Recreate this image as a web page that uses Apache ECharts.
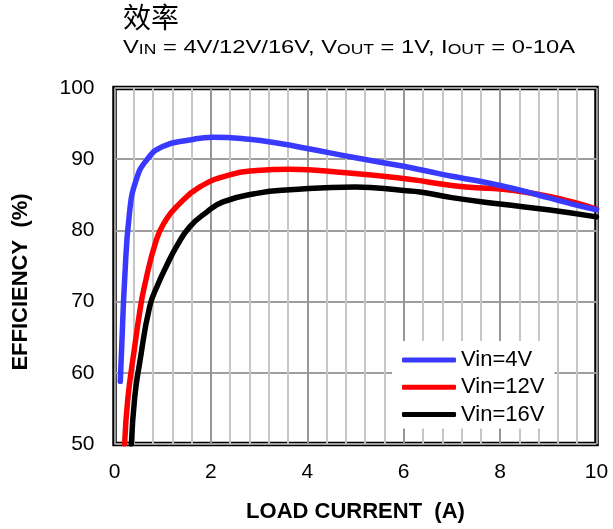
<!DOCTYPE html>
<html>
<head>
<meta charset="utf-8">
<script src="https://cdn.jsdelivr.net/npm/echarts@6/dist/echarts.min.js"></script>
<style>
  html, body { margin: 0; padding: 0; background: #ffffff; }
  #chart { width: 613px; height: 529px; }
</style>
</head>
<body>
<div id="chart"></div>
<script>
// Efficiency vs. load current, Vout = 1V
const seriesNames = ['Vin=4V', 'Vin=12V', 'Vin=16V'];
const seriesColors = ['#3a3aff', '#ff0000', '#000000'];

const vin4Current    = [0.12, 0.15, 0.21, 0.31, 0.45, 0.67, 1.0, 1.56, 2.04, 2.8, 3.43, 4.0, 5.0, 6.0, 6.5, 7.0, 7.5, 8.0, 8.5, 9.0, 9.5, 10.0];
const vin4Efficiency = [58.8, 63.7, 73.0, 82.4, 87.1, 89.9, 91.8, 92.7, 93.1, 92.8, 92.2, 91.5, 90.2, 89.0, 88.3, 87.6, 87.0, 86.3, 85.5, 84.6, 83.7, 82.9];

const vin12Current    = [0.21, 0.28, 0.42, 0.52, 0.62, 0.87, 1.07, 1.28, 1.77, 2.39, 2.95, 3.64, 4.8, 6.0, 6.5, 7.0, 7.5, 8.0, 8.5, 9.0, 9.5, 10.0];
const vin12Efficiency = [50.0, 56.6, 63.7, 68.4, 72.1, 78.7, 81.5, 83.3, 86.1, 87.8, 88.4, 88.6, 88.1, 87.3, 86.8, 86.3, 86.0, 85.8, 85.4, 84.8, 84.0, 83.0];

const vin16Current    = [0.35, 0.42, 0.52, 0.73, 0.9, 1.07, 1.3, 1.56, 1.9, 2.25, 2.95, 3.64, 5.0, 6.0, 6.34, 7.0, 8.0, 9.0, 10.0];
const vin16Efficiency = [50.0, 56.6, 61.3, 69.3, 72.4, 74.9, 77.9, 80.5, 82.5, 84.0, 85.2, 85.7, 86.1, 85.6, 85.4, 84.6, 83.7, 82.9, 81.9];

const xTickValues = [0, 2, 4, 6, 8, 10];
const yTickValues = [50, 60, 70, 80, 90, 100];

const chartTitle = '效率';
const chartSubtitle = 'V{s|IN} = 4V/12V/16V, V{s|OUT} = 1V, I{s|OUT} = 0-10A';
const xAxisTitle = 'LOAD CURRENT  (A)';
const yAxisTitle = 'EFFICIENCY  (%)';

const currents = [vin4Current, vin12Current, vin16Current];
const efficiencies = [vin4Efficiency, vin12Efficiency, vin16Efficiency];

const FONT = '"Liberation Sans", Arial, sans-serif';

const chart = echarts.init(document.getElementById('chart'), null, { renderer: 'canvas' });

chart.setOption({
  animation: false,
  backgroundColor: '#ffffff',
  graphic: [
    {
      type: 'text', left: 123, top: 3, z: 10,
      style: { text: chartTitle, font: '28px "Noto Sans CJK SC", sans-serif', fill: '#000' }
    },
    {
      type: 'text', x: 123, y: 38, scaleX: 1.25, z: 10,
      style: {
        text: chartSubtitle,
        fontFamily: FONT, fontSize: 19, fill: '#000',
        rich: {
          s: { fontFamily: FONT, fontSize: 14, verticalAlign: 'bottom', fill: '#000' }
        }
      }
    },
    {
      type: 'text', x: 21, y: 282, rotation: Math.PI / 2, z: 10,
      style: {
        text: yAxisTitle, fontFamily: FONT, fontSize: 22, fontWeight: 'bold',
        fill: '#000', align: 'center', verticalAlign: 'middle'
      }
    }
  ],
  grid: {
    left: 114.5, right: 16.5, top: 88, bottom: 85,
    show: true, borderColor: '#000', borderWidth: 4.5, backgroundColor: 'transparent'
  },
  legend: {
    orient: 'vertical',
    left: 392, top: 341,
    data: seriesNames,
    icon: 'roundRect',
    itemWidth: 54, itemHeight: 5, itemGap: 5.3,
    backgroundColor: '#ffffff',
    padding: [8, 10, 3, 10],
    borderRadius: 0,
    textStyle: { fontFamily: FONT, fontSize: 22, color: '#000', lineHeight: 22 }
  },
  xAxis: {
    type: 'value',
    min: xTickValues[0], max: xTickValues[xTickValues.length - 1],
    interval: xTickValues[1] - xTickValues[0],
    name: xAxisTitle, nameLocation: 'middle', nameGap: 57,
    nameTextStyle: { fontFamily: FONT, fontSize: 22, fontWeight: 'bold', color: '#000' },
    axisLine: { show: false },
    axisTick: { show: false },
    axisLabel: { margin: 18, fontFamily: FONT, fontSize: 21, color: '#000' },
    minorTick: { show: false, splitNumber: 5 },
    splitLine: { show: true, lineStyle: { color: '#969696', width: 2 } },
    minorSplitLine: { show: true, lineStyle: { color: '#c6c6c6', width: 2 } }
  },
  yAxis: {
    type: 'value',
    min: yTickValues[0], max: yTickValues[yTickValues.length - 1],
    interval: yTickValues[1] - yTickValues[0],
    axisLine: { show: false },
    axisTick: { show: false },
    axisLabel: { margin: 20, fontFamily: FONT, fontSize: 21, color: '#000' },
    splitLine: { show: true, lineStyle: { color: '#9e9e9e', width: 2 } }
  },
  series: seriesNames.map((name, i) => ({
    name,
    type: 'line',
    data: currents[i].map((x, k) => [x, efficiencies[i][k]]),
    smooth: 0.5,
    showSymbol: false,
    symbol: 'none',
    color: seriesColors[i],
    lineStyle: { color: seriesColors[i], width: 5.5, cap: 'round', join: 'round' },
    z: 5 - i
  }))
});
</script>
</body>
</html>
